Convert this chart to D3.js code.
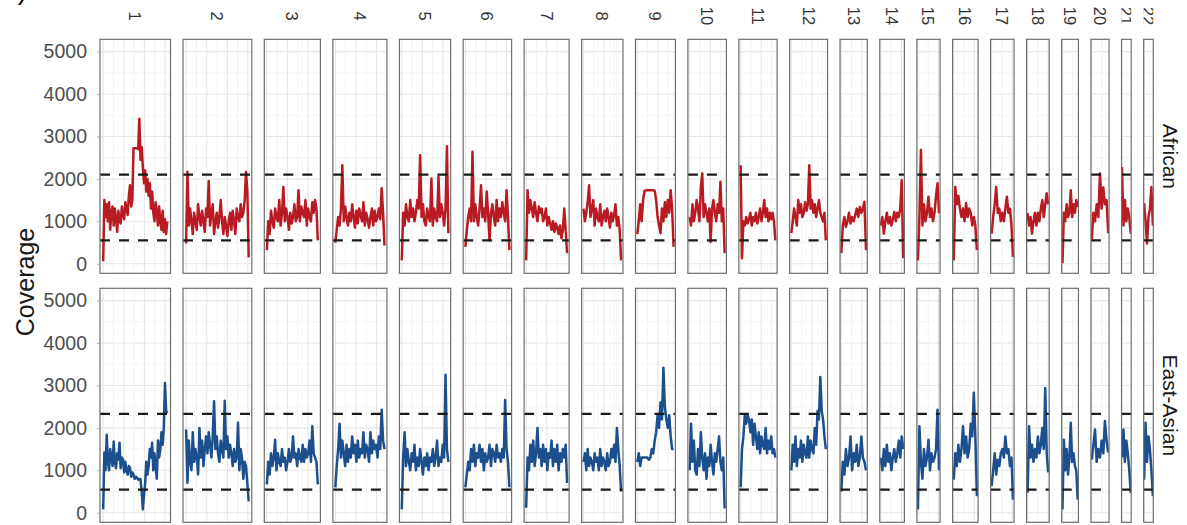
<!DOCTYPE html>
<html>
<head>
<meta charset="utf-8">
<script src="https://cdn.jsdelivr.net/npm/d3@7"></script>
<style>
  body { margin: 0; background: #ffffff; }
  svg { display: block; font-family: "Liberation Sans", Arial, Helvetica, sans-serif; }
</style>
</head>
<body>
<svg id="chart" width="1187" height="525"></svg>
<script>
// Chromosomes and the covered span of each one (Mb)
const chromosomes = ["1","2","3","4","5","6","7","8","9","10","11","12","13","14","15","16","17","18","19","20","21","22"];
const chromStart  = [0,0,0,0,0,0,0,0,0,0,0,0,19,20,20,0,0,0,0,0,14,17];
const chromEnd    = [249,243,198,191,181,171,159,146,141,136,135,134,115,107,102,90,83,80,59,64,48,51];

const populations = ["African", "East-Asian"];
const yTicks = [0, 1000, 2000, 3000, 4000, 5000];

// Coverage per window, windows evenly spaced along each chromosome
const africanCoverage = [
  [60,1500,1100,1400,1000,1450,800,1200,1350,900,1300,1050,750,1250,1000,950,1350,1150,1050,1450,1300,1150,1600,1850,1350,1500,2720,2720,2720,2720,2700,3420,2450,2750,2300,1900,2200,1700,2000,1600,1900,1300,1700,1200,1000,1450,1200,900,1350,1000,800,1250,750,1050,700,1000],
  [480,2170,900,1300,1000,700,1200,1000,800,1400,1100,900,1250,1000,750,1300,1100,1950,900,1200,1400,700,1000,1200,850,1100,1500,1000,700,1100,900,650,1000,1200,800,1250,1000,700,1300,1100,1000,1400,1100,1200,1500,2160,1700,150],
  [320,1000,700,1250,1000,850,1300,1100,1000,1500,900,1200,1810,1000,1300,1100,800,1200,950,1100,1400,1000,1100,1730,1000,1350,1200,1100,1500,900,1300,1100,1000,1450,1200,1500,1300,550],
  [500,800,1100,900,1300,2320,1000,1350,1100,900,1200,1000,1400,1100,850,1250,950,1300,1150,1000,1450,900,1200,1050,850,1100,1300,900,1250,1000,1100,1300,1050,1780,1200,430],
  [80,1200,900,1400,1100,1000,1500,1100,1300,1000,1200,1500,1300,2560,1100,1400,1000,900,1300,1100,1000,2010,900,1300,1100,1000,2050,1100,1400,1200,900,1300,2770,720],
  [400,800,1100,1300,1000,2640,1000,1400,1100,900,1300,1850,1100,1300,1000,1700,1200,550,1200,1400,1100,900,1500,1000,1300,1100,1450,1200,1000,1730,1100,320],
  [80,1730,1200,1500,1300,1100,1450,1200,1000,1350,1200,1300,1000,1100,1300,900,1100,950,800,1000,750,950,850,700,900,600,800,1300,800,250],
  [1300,1000,1200,1450,1850,1100,1300,1500,900,1300,1100,1000,1400,900,1100,1250,1000,1300,1100,850,1200,1000,1150,1400,900,1100,800,80],
  [700,1000,1400,1000,1500,1720,1730,1730,1730,1730,1730,1730,1720,1500,1100,900,720,1300,1000,1450,1100,1500,1200,1730,1300,400],
  [1100,900,1400,1000,1200,1500,1300,1000,1800,2130,1100,1400,1200,1000,1300,515,1300,1500,1200,1000,1400,1200,1930,1000,1300,250],
  [2320,130,1000,900,1100,950,1050,1200,900,1100,1000,1200,950,1100,1300,1000,1200,1500,1100,1300,1000,1200,1050,1200,1000,550],
  [720,1000,1300,1100,900,1500,1200,1400,1100,1200,1450,1250,1400,2320,1300,1500,1200,1400,1100,1300,1500,1200,1100,1000,1200,550],
  [250,900,1100,870,1000,1200,950,1100,1000,1150,1300,1100,1340,1200,1300,1460,320],
  [900,1100,710,1000,1200,950,1100,900,1050,1220,1000,1200,1100,1300,1970,130],
  [80,1100,2680,900,1400,1000,1200,1580,1100,1300,1000,1200,1600,1900,1190],
  [80,1810,1400,1600,1300,1100,1300,1000,1430,1100,1300,1200,900,1100,900,320],
  [710,1100,1400,1810,1200,1300,1000,1200,1000,1300,1580,1200,1300,900,160],
  [1190,900,1100,710,1000,1200,900,1200,1000,1300,1500,1100,1400,1660,1400],
  [10,1200,1000,1400,1100,1200,1730,1100,1400,1200,1500,1340],
  [550,1200,1000,1400,1100,2130,1300,1800,1400,1500,720],
  [2280,900,1500,1000,1300,1100,710],
  [1430,1000,480,1100,1300,1810,900]
];

const eastAsianCoverage = [
  [80,1420,1000,1840,1200,1000,1500,1300,1100,1680,1200,1050,1400,1250,1650,1050,1300,1250,950,1200,1000,900,1100,1050,850,950,900,800,850,820,780,800,790,500,80,400,700,1200,900,1100,1500,1300,1650,1000,1400,1100,800,1700,1300,1500,1900,1600,2000,3060,2400,2350],
  [1960,710,1700,1200,1000,1900,1200,1500,1300,900,2000,1300,1700,1100,1500,1800,1400,1900,1600,1300,1800,2630,1500,1800,1400,1200,1700,1500,1300,2640,1500,1800,1300,1600,1400,1100,1500,1200,1300,2120,1000,1500,1300,800,1200,1100,700,270],
  [670,1200,900,1400,1100,1300,1720,1000,1400,1200,1100,1500,1200,1300,1000,1200,1500,1200,1300,1800,1300,1400,1100,1500,1300,1200,1600,1200,1500,1300,1400,1700,1200,2040,1400,1300,1200,670],
  [600,1100,1500,2100,1300,1700,1400,1100,1600,1200,1500,1300,1800,1400,1600,1200,1700,1300,1500,1400,1900,1300,1600,1500,1200,1900,1400,1700,1500,1600,1300,1800,1500,2430,1700,1500],
  [80,1300,1900,1100,1500,1200,1000,1400,1200,1600,1000,1300,1100,1500,1200,900,1300,1100,1400,1000,1300,1200,1500,1100,1300,1700,1100,1300,1200,1600,1300,3250,1500,1200],
  [600,900,1200,1000,1500,1200,1600,1100,1400,1300,1600,1200,1500,1000,1400,1200,1300,1600,1100,1500,1400,1200,1600,1300,1400,1200,1500,1300,2660,1500,1200,600],
  [120,1300,1000,1600,1200,1700,1100,1400,2000,1300,1500,1100,1600,1200,1500,1000,1400,1300,1700,1100,1500,1200,1600,1000,1400,1200,1500,1300,1600,700],
  [1200,1400,1000,1500,1100,1300,1200,1000,1400,1200,1300,1000,1500,1100,1300,1200,1000,1400,1100,1200,1500,1300,1600,1200,2000,1500,1100,500],
  [1200,1400,1100,1300,1300,1300,1300,1300,1250,1300,1500,1400,1700,1900,2300,2000,2600,2200,3420,2500,2200,2000,2300,1800,1500,1500],
  [1000,2100,1200,1700,1000,900,1500,1100,1900,1300,1000,1400,800,1300,1100,1600,1200,900,1400,1200,1500,1800,1200,1000,1300,100],
  [600,1500,1800,2300,2100,2300,2200,1900,2200,1600,2100,1800,1500,1900,1400,1800,1600,1500,2000,1400,1700,1500,1800,1400,1500,1300],
  [1000,1600,1200,1800,1100,1500,1300,1700,1200,1600,1400,1300,1800,1300,1700,1500,1400,2000,1600,2400,2200,3200,2400,2200,1800,1500],
  [500,1200,900,1500,1100,1300,1800,1000,1400,1200,1600,1100,1300,1800,1300,1200,1000],
  [1300,1000,1500,1100,1600,1200,1400,1000,1300,1500,1200,1400,1700,1300,1800,1500],
  [80,2040,1200,800,1500,1100,1300,1720,1000,1400,1200,1300,1500,2430,1000],
  [780,1400,1100,1600,1200,1500,2040,1400,1800,1300,1500,2100,1800,2830,1800,390],
  [630,1000,1400,900,1250,1100,1400,1500,1300,1800,1400,1500,1100,1300,310],
  [470,2040,1300,1600,1200,1500,1300,1800,1400,1600,2000,1500,2940,1400,950],
  [80,1720,1000,1500,900,1300,2120,1200,1400,1100,1000,310],
  [1250,1600,1960,1200,1500,1300,1700,1400,2160,1700,1420],
  [1300,1960,1200,1700,1400,1000,470],
  [780,2120,1200,1800,1500,1000,390]
];

// Low / high coverage cut-offs per population
const africanCutoffs = [550, 2100];
const eastAsianCutoffs = [545, 2330];

const coverageByPop = [africanCoverage, eastAsianCoverage];
const cutoffsByPop = [africanCutoffs, eastAsianCutoffs];
const lineColors = ["#b81c22", "#1c4f8e"];

// ---- layout ----
const svg = d3.select("#chart");
const plotLeft = 100, plotRight = 1153.3, panelGap = 12.5;
const rowTop = [39.3, 288.3], rowHeight = 234;

const spans = chromosomes.map((c, i) => chromEnd[i] - chromStart[i]);
const unitPx = (plotRight - plotLeft - panelGap * (chromosomes.length - 1)) / d3.sum(spans);
let cursor = plotLeft;
const panels = chromosomes.map((c, i) => {
  const w = spans[i] * unitPx;
  const pad = spans[i] * 0.05;
  const x = d3.scaleLinear()
    .domain([chromStart[i] - pad, chromEnd[i] + pad])
    .range([cursor, cursor + w]);
  const p = { name: c, i, x0: cursor, x1: cursor + w, x };
  cursor += w + panelGap;
  return p;
});

const defs = svg.append("defs");

populations.forEach((pop, r) => {
  const top = rowTop[r], bottom = top + rowHeight;
  const y = d3.scaleLinear().domain([-225, 5290]).range([bottom, top]);
  const coverage = coverageByPop[r];
  const cutoffs = cutoffsByPop[r];

  panels.forEach(p => {
    const clipId = `clip-${r}-${p.i}`;
    defs.append("clipPath").attr("id", clipId)
      .append("rect").attr("x", p.x0).attr("y", top)
      .attr("width", p.x1 - p.x0).attr("height", rowHeight);

    const g = svg.append("g").attr("clip-path", `url(#${clipId})`);
    g.append("rect").attr("x", p.x0).attr("y", top)
      .attr("width", p.x1 - p.x0).attr("height", rowHeight).attr("fill", "#ffffff");

    // horizontal grid
    const minorY = d3.range(500, 5000, 1000);
    g.selectAll(null).data(minorY).join("line")
      .attr("x1", p.x0).attr("x2", p.x1)
      .attr("y1", d => y(d)).attr("y2", d => y(d))
      .attr("stroke", "#f2f2f2").attr("stroke-width", 0.8);
    g.selectAll(null).data(yTicks).join("line")
      .attr("x1", p.x0).attr("x2", p.x1)
      .attr("y1", d => y(d)).attr("y2", d => y(d))
      .attr("stroke", "#e6e6e6").attr("stroke-width", 1.1);

    // vertical grid
    const s0 = chromStart[p.i], s1 = chromEnd[p.i];
    const majorX = d3.range(s0, s1 + 0.001, 80);
    const minorX = d3.range(s0 + 40, s1 + 0.001, 80);
    g.selectAll(null).data(minorX).join("line")
      .attr("x1", d => p.x(d)).attr("x2", d => p.x(d))
      .attr("y1", top).attr("y2", bottom)
      .attr("stroke", "#f0f0f0").attr("stroke-width", 0.9);
    g.selectAll(null).data(majorX).join("line")
      .attr("x1", d => p.x(d)).attr("x2", d => p.x(d))
      .attr("y1", top).attr("y2", bottom)
      .attr("stroke", "#e6e6e6").attr("stroke-width", 1.1);

    // coverage trace
    const vals = coverage[p.i];
    const step = (s1 - s0) / (vals.length - 1);
    const pts = vals.map((v, k) => [s0 + k * step, v]);
    const line = d3.line().x(d => p.x(d[0])).y(d => y(d[1]));
    g.append("path").datum(pts)
      .attr("d", line)
      .attr("fill", "none")
      .attr("stroke", lineColors[r])
      .attr("stroke-width", 2.5)
      .attr("stroke-linejoin", "round");

    // cut-off lines
    g.selectAll(null).data(cutoffs).join("line")
      .attr("x1", p.x0).attr("x2", p.x1)
      .attr("y1", d => y(d)).attr("y2", d => y(d))
      .attr("stroke", "#1a1a1a").attr("stroke-width", 2.2)
      .attr("stroke-dasharray", "10,9");

    // panel border
    svg.append("rect").attr("x", p.x0).attr("y", top)
      .attr("width", p.x1 - p.x0).attr("height", rowHeight)
      .attr("fill", "none").attr("stroke", "#6e6e6e").attr("stroke-width", 1.2);
  });

  // y axis
  const axis = svg.append("g").attr("transform", `translate(${plotLeft},0)`)
    .call(d3.axisLeft(y).tickValues(yTicks).tickSize(3).tickPadding(10).tickFormat(d3.format("d")));
  axis.select(".domain").remove();
  axis.selectAll(".tick line").attr("stroke", "#b3b3b3");
  axis.selectAll(".tick text").attr("fill", "#4d4d4d")
    .style("font-size", "19.5px").style("font-family", "'Liberation Sans', Arial, sans-serif");

  // right strip label
  svg.append("text")
    .attr("transform", `translate(1170,${(top + bottom) / 2}) rotate(90)`)
    .attr("text-anchor", "middle").attr("dominant-baseline", "central")
    .attr("fill", "#1a1a1a").style("font-size", "21px")
    .text(pop);
});

// top strip labels, clipped to each strip
panels.forEach(p => {
  const clipId = `strip-${p.i}`;
  defs.append("clipPath").attr("id", clipId)
    .append("rect").attr("x", p.x0).attr("y", 0)
    .attr("width", p.x1 - p.x0).attr("height", 37);
  svg.append("g").attr("clip-path", `url(#${clipId})`)
    .append("text")
    .attr("transform", `translate(${(p.x0 + p.x1) / 2},16) rotate(90)`)
    .attr("text-anchor", "middle").attr("dominant-baseline", "central")
    .attr("fill", "#333333").style("font-size", "16.5px")
    .text(p.name);
});

// axis title
svg.append("text")
  .attr("transform", "translate(25,282) rotate(-90)")
  .attr("text-anchor", "middle").attr("dominant-baseline", "central")
  .attr("fill", "#1a1a1a").style("font-size", "25px")
  .text("Coverage");

// figure tag
svg.append("text").attr("x", 27).attr("y", -1)
  .attr("text-anchor", "end").attr("fill", "#000000").style("font-size", "28px")
  .text("b)");
</script>
</body>
</html>
